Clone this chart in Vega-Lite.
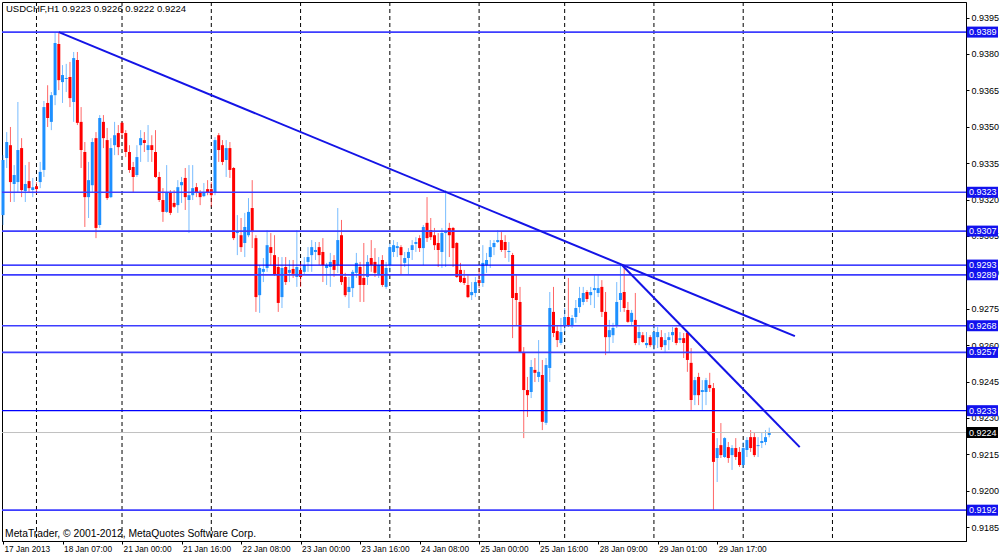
{
"$schema": "https://vega.github.io/schema/vega-lite/v6.json",
"width": 964, "height": 539,
"autosize": {"type": "none"},
"padding": {"left": 2, "top": 2, "right": 34, "bottom": 16},
"background": "white",
"config": {"view": {"stroke": "#000000", "strokeWidth": 1}, "axis": {"domainColor": "#000000", "tickColor": "#000000", "labelColor": "#000000", "labelFont": "Liberation Sans", "labelFontSize": 9}, "axisX": {"labelFontSize": 8.3}},
"datasets": {
"bars": [
{"i":0,"o":0.93136,"h":0.93383,"l":0.93095,"c":0.93363},
{"i":1,"o":0.93371,"h":0.93478,"l":0.93330,"c":0.93437},
{"i":2,"o":0.93424,"h":0.93499,"l":0.93190,"c":0.93272},
{"i":3,"o":0.93264,"h":0.93342,"l":0.93190,"c":0.93301},
{"i":4,"o":0.93272,"h":0.93602,"l":0.93231,"c":0.93404},
{"i":5,"o":0.93412,"h":0.93453,"l":0.93210,"c":0.93239},
{"i":6,"o":0.93235,"h":0.93342,"l":0.93190,"c":0.93264},
{"i":7,"o":0.93276,"h":0.93355,"l":0.93231,"c":0.93247},
{"i":8,"o":0.93239,"h":0.93289,"l":0.93210,"c":0.93251},
{"i":9,"o":0.93255,"h":0.93272,"l":0.93223,"c":0.93243},
{"i":10,"o":0.93272,"h":0.93355,"l":0.93247,"c":0.93314},
{"i":11,"o":0.93322,"h":0.93606,"l":0.93293,"c":0.93581},
{"i":12,"o":0.93598,"h":0.93671,"l":0.93499,"c":0.93536},
{"i":13,"o":0.93520,"h":0.93643,"l":0.93486,"c":0.93630},
{"i":14,"o":0.93630,"h":0.93886,"l":0.93589,"c":0.93845},
{"i":15,"o":0.93841,"h":0.93890,"l":0.93651,"c":0.93692},
{"i":16,"o":0.93684,"h":0.93754,"l":0.93598,"c":0.93713},
{"i":17,"o":0.93697,"h":0.93759,"l":0.93643,"c":0.93701},
{"i":18,"o":0.93705,"h":0.93767,"l":0.93581,"c":0.93618},
{"i":19,"o":0.93602,"h":0.93808,"l":0.93520,"c":0.93783},
{"i":20,"o":0.93775,"h":0.93808,"l":0.93507,"c":0.93516},
{"i":21,"o":0.93520,"h":0.93581,"l":0.93330,"c":0.93404},
{"i":22,"o":0.93396,"h":0.93437,"l":0.93087,"c":0.93210},
{"i":23,"o":0.93210,"h":0.93355,"l":0.93124,"c":0.93280},
{"i":24,"o":0.93259,"h":0.93453,"l":0.93227,"c":0.93437},
{"i":25,"o":0.93453,"h":0.93478,"l":0.93041,"c":0.93083},
{"i":26,"o":0.93095,"h":0.93548,"l":0.93083,"c":0.93536},
{"i":27,"o":0.93520,"h":0.93548,"l":0.93412,"c":0.93453},
{"i":28,"o":0.93445,"h":0.93495,"l":0.93198,"c":0.93206},
{"i":29,"o":0.93210,"h":0.93453,"l":0.93206,"c":0.93412},
{"i":30,"o":0.93424,"h":0.93520,"l":0.93383,"c":0.93465},
{"i":31,"o":0.93474,"h":0.93507,"l":0.93383,"c":0.93416},
{"i":32,"o":0.93516,"h":0.93520,"l":0.93453,"c":0.93474},
{"i":33,"o":0.93474,"h":0.93486,"l":0.93375,"c":0.93396},
{"i":34,"o":0.93396,"h":0.93424,"l":0.93310,"c":0.93322},
{"i":35,"o":0.93334,"h":0.93355,"l":0.93227,"c":0.93293},
{"i":36,"o":0.93301,"h":0.93424,"l":0.93293,"c":0.93375},
{"i":37,"o":0.93424,"h":0.93486,"l":0.93355,"c":0.93453},
{"i":38,"o":0.93445,"h":0.93478,"l":0.93396,"c":0.93433},
{"i":39,"o":0.93404,"h":0.93507,"l":0.93355,"c":0.93424},
{"i":40,"o":0.93424,"h":0.93465,"l":0.93355,"c":0.93404},
{"i":41,"o":0.93396,"h":0.93486,"l":0.93289,"c":0.93293},
{"i":42,"o":0.93293,"h":0.93314,"l":0.93190,"c":0.93198},
{"i":43,"o":0.93198,"h":0.93247,"l":0.93108,"c":0.93149},
{"i":44,"o":0.93149,"h":0.93342,"l":0.93145,"c":0.93227},
{"i":45,"o":0.93231,"h":0.93239,"l":0.93136,"c":0.93145},
{"i":46,"o":0.93186,"h":0.93239,"l":0.93165,"c":0.93170},
{"i":47,"o":0.93177,"h":0.93280,"l":0.93145,"c":0.93251},
{"i":48,"o":0.93259,"h":0.93293,"l":0.93186,"c":0.93272},
{"i":49,"o":0.93289,"h":0.93330,"l":0.93157,"c":0.93210},
{"i":50,"o":0.93198,"h":0.93342,"l":0.93062,"c":0.93218},
{"i":51,"o":0.93218,"h":0.93342,"l":0.93198,"c":0.93247},
{"i":52,"o":0.93251,"h":0.93268,"l":0.93210,"c":0.93227},
{"i":53,"o":0.93231,"h":0.93239,"l":0.93177,"c":0.93210},
{"i":54,"o":0.93214,"h":0.93268,"l":0.93210,"c":0.93231},
{"i":55,"o":0.93243,"h":0.93280,"l":0.93218,"c":0.93227},
{"i":56,"o":0.93243,"h":0.93272,"l":0.93170,"c":0.93218},
{"i":57,"o":0.93227,"h":0.93457,"l":0.93218,"c":0.93445},
{"i":58,"o":0.93465,"h":0.93474,"l":0.93355,"c":0.93404},
{"i":59,"o":0.93424,"h":0.93445,"l":0.93342,"c":0.93355},
{"i":60,"o":0.93363,"h":0.93445,"l":0.93293,"c":0.93412},
{"i":61,"o":0.93412,"h":0.93437,"l":0.93289,"c":0.93322},
{"i":62,"o":0.93330,"h":0.93334,"l":0.93033,"c":0.93041},
{"i":63,"o":0.93062,"h":0.93136,"l":0.92971,"c":0.93066},
{"i":64,"o":0.93053,"h":0.93124,"l":0.92984,"c":0.93004},
{"i":65,"o":0.93021,"h":0.93145,"l":0.92963,"c":0.93087},
{"i":66,"o":0.93053,"h":0.93206,"l":0.93045,"c":0.93149},
{"i":67,"o":0.93165,"h":0.93280,"l":0.93000,"c":0.93066},
{"i":68,"o":0.93041,"h":0.93053,"l":0.92737,"c":0.92798},
{"i":69,"o":0.92806,"h":0.92930,"l":0.92733,"c":0.92918},
{"i":70,"o":0.92902,"h":0.92959,"l":0.92860,"c":0.92914},
{"i":71,"o":0.92918,"h":0.93074,"l":0.92902,"c":0.93012},
{"i":72,"o":0.93004,"h":0.93062,"l":0.92930,"c":0.92980},
{"i":73,"o":0.92971,"h":0.93053,"l":0.92885,"c":0.92889},
{"i":74,"o":0.92922,"h":0.92963,"l":0.92737,"c":0.92774},
{"i":75,"o":0.92798,"h":0.92963,"l":0.92753,"c":0.92918},
{"i":76,"o":0.92922,"h":0.92963,"l":0.92848,"c":0.92860},
{"i":77,"o":0.92898,"h":0.92951,"l":0.92860,"c":0.92910},
{"i":78,"o":0.92914,"h":0.92951,"l":0.92877,"c":0.92894},
{"i":79,"o":0.92881,"h":0.93074,"l":0.92840,"c":0.92922},
{"i":80,"o":0.92910,"h":0.92939,"l":0.92840,"c":0.92881},
{"i":81,"o":0.92902,"h":0.92963,"l":0.92889,"c":0.92930},
{"i":82,"o":0.92943,"h":0.93004,"l":0.92902,"c":0.92963},
{"i":83,"o":0.92971,"h":0.93033,"l":0.92902,"c":0.93004},
{"i":84,"o":0.92984,"h":0.93025,"l":0.92951,"c":0.92992},
{"i":85,"o":0.93004,"h":0.93025,"l":0.92930,"c":0.92971},
{"i":86,"o":0.92984,"h":0.93041,"l":0.92860,"c":0.92930},
{"i":87,"o":0.92918,"h":0.92939,"l":0.92848,"c":0.92930},
{"i":88,"o":0.92922,"h":0.92980,"l":0.92840,"c":0.92943},
{"i":89,"o":0.92951,"h":0.92971,"l":0.92881,"c":0.92910},
{"i":90,"o":0.92930,"h":0.93165,"l":0.92898,"c":0.93033},
{"i":91,"o":0.93053,"h":0.93116,"l":0.92848,"c":0.92860},
{"i":92,"o":0.92881,"h":0.92898,"l":0.92798,"c":0.92806},
{"i":93,"o":0.92819,"h":0.92881,"l":0.92753,"c":0.92840},
{"i":94,"o":0.92835,"h":0.92910,"l":0.92798,"c":0.92902},
{"i":95,"o":0.92898,"h":0.92980,"l":0.92877,"c":0.92939},
{"i":96,"o":0.92922,"h":0.92943,"l":0.92778,"c":0.92848},
{"i":97,"o":0.92877,"h":0.93021,"l":0.92778,"c":0.92848},
{"i":98,"o":0.92881,"h":0.92971,"l":0.92848,"c":0.92943},
{"i":99,"o":0.92959,"h":0.93033,"l":0.92902,"c":0.92930},
{"i":100,"o":0.92943,"h":0.93000,"l":0.92881,"c":0.92898},
{"i":101,"o":0.92889,"h":0.92963,"l":0.92877,"c":0.92930},
{"i":102,"o":0.92951,"h":0.92971,"l":0.92840,"c":0.92848},
{"i":103,"o":0.92840,"h":0.92943,"l":0.92832,"c":0.92918},
{"i":104,"o":0.92930,"h":0.93021,"l":0.92898,"c":0.93004},
{"i":105,"o":0.92984,"h":0.93033,"l":0.92963,"c":0.93012},
{"i":106,"o":0.93000,"h":0.93025,"l":0.92963,"c":0.93008},
{"i":107,"o":0.93004,"h":0.93012,"l":0.92889,"c":0.92971},
{"i":108,"o":0.92939,"h":0.92984,"l":0.92922,"c":0.92959},
{"i":109,"o":0.92959,"h":0.93000,"l":0.92889,"c":0.92984},
{"i":110,"o":0.92992,"h":0.93033,"l":0.92951,"c":0.93012},
{"i":111,"o":0.93017,"h":0.93045,"l":0.92984,"c":0.93025},
{"i":112,"o":0.93041,"h":0.93053,"l":0.92984,"c":0.93000},
{"i":113,"o":0.93000,"h":0.93095,"l":0.92930,"c":0.93087},
{"i":114,"o":0.93104,"h":0.93210,"l":0.93025,"c":0.93041},
{"i":115,"o":0.93074,"h":0.93124,"l":0.93033,"c":0.93045},
{"i":116,"o":0.93053,"h":0.93083,"l":0.92992,"c":0.93012},
{"i":117,"o":0.93021,"h":0.93062,"l":0.92922,"c":0.92992},
{"i":118,"o":0.92984,"h":0.93083,"l":0.92918,"c":0.93062},
{"i":119,"o":0.93062,"h":0.93239,"l":0.92922,"c":0.93066},
{"i":120,"o":0.93083,"h":0.93104,"l":0.92963,"c":0.93053},
{"i":121,"o":0.93083,"h":0.93087,"l":0.92922,"c":0.93000},
{"i":122,"o":0.93021,"h":0.93025,"l":0.92877,"c":0.92881},
{"i":123,"o":0.92910,"h":0.92939,"l":0.92856,"c":0.92860},
{"i":124,"o":0.92877,"h":0.92910,"l":0.92848,"c":0.92856},
{"i":125,"o":0.92848,"h":0.92889,"l":0.92794,"c":0.92798},
{"i":126,"o":0.92806,"h":0.92860,"l":0.92786,"c":0.92819},
{"i":127,"o":0.92815,"h":0.92881,"l":0.92798,"c":0.92860},
{"i":128,"o":0.92868,"h":0.92918,"l":0.92835,"c":0.92856},
{"i":129,"o":0.92856,"h":0.93012,"l":0.92840,"c":0.92939},
{"i":130,"o":0.92930,"h":0.92980,"l":0.92898,"c":0.92951},
{"i":131,"o":0.92963,"h":0.93033,"l":0.92918,"c":0.93004},
{"i":132,"o":0.93004,"h":0.93033,"l":0.92971,"c":0.93021},
{"i":133,"o":0.93025,"h":0.93074,"l":0.93021,"c":0.93033},
{"i":134,"o":0.93033,"h":0.93066,"l":0.92984,"c":0.92992},
{"i":135,"o":0.93025,"h":0.93053,"l":0.92959,"c":0.92992},
{"i":136,"o":0.92984,"h":0.93025,"l":0.92943,"c":0.92988},
{"i":137,"o":0.92971,"h":0.92980,"l":0.92629,"c":0.92794},
{"i":138,"o":0.92815,"h":0.92889,"l":0.92683,"c":0.92786},
{"i":139,"o":0.92778,"h":0.92840,"l":0.92568,"c":0.92572},
{"i":140,"o":0.92572,"h":0.92592,"l":0.92217,"c":0.92415},
{"i":141,"o":0.92415,"h":0.92469,"l":0.92304,"c":0.92394},
{"i":142,"o":0.92407,"h":0.92539,"l":0.92382,"c":0.92510},
{"i":143,"o":0.92498,"h":0.92547,"l":0.92448,"c":0.92486},
{"i":144,"o":0.92469,"h":0.92621,"l":0.92448,"c":0.92490},
{"i":145,"o":0.92477,"h":0.92539,"l":0.92250,"c":0.92284},
{"i":146,"o":0.92280,"h":0.92547,"l":0.92271,"c":0.92518},
{"i":147,"o":0.92506,"h":0.92819,"l":0.92448,"c":0.92753},
{"i":148,"o":0.92737,"h":0.92840,"l":0.92633,"c":0.92650},
{"i":149,"o":0.92658,"h":0.92683,"l":0.92592,"c":0.92621},
{"i":150,"o":0.92609,"h":0.92712,"l":0.92600,"c":0.92654},
{"i":151,"o":0.92683,"h":0.92753,"l":0.92654,"c":0.92716},
{"i":152,"o":0.92716,"h":0.92877,"l":0.92675,"c":0.92683},
{"i":153,"o":0.92683,"h":0.92724,"l":0.92671,"c":0.92712},
{"i":154,"o":0.92716,"h":0.92786,"l":0.92692,"c":0.92753},
{"i":155,"o":0.92757,"h":0.92840,"l":0.92733,"c":0.92794},
{"i":156,"o":0.92778,"h":0.92840,"l":0.92765,"c":0.92815},
{"i":157,"o":0.92819,"h":0.92827,"l":0.92778,"c":0.92790},
{"i":158,"o":0.92806,"h":0.92840,"l":0.92765,"c":0.92819},
{"i":159,"o":0.92827,"h":0.92889,"l":0.92753,"c":0.92835},
{"i":160,"o":0.92815,"h":0.92889,"l":0.92798,"c":0.92835},
{"i":161,"o":0.92840,"h":0.92868,"l":0.92716,"c":0.92737},
{"i":162,"o":0.92737,"h":0.92819,"l":0.92559,"c":0.92633},
{"i":163,"o":0.92633,"h":0.92704,"l":0.92572,"c":0.92662},
{"i":164,"o":0.92641,"h":0.92692,"l":0.92609,"c":0.92671},
{"i":165,"o":0.92683,"h":0.92860,"l":0.92671,"c":0.92778},
{"i":166,"o":0.92786,"h":0.92930,"l":0.92737,"c":0.92815},
{"i":167,"o":0.92819,"h":0.92922,"l":0.92737,"c":0.92753},
{"i":168,"o":0.92745,"h":0.92778,"l":0.92692,"c":0.92696},
{"i":169,"o":0.92696,"h":0.92745,"l":0.92683,"c":0.92733},
{"i":170,"o":0.92704,"h":0.92815,"l":0.92600,"c":0.92609},
{"i":171,"o":0.92629,"h":0.92683,"l":0.92600,"c":0.92654},
{"i":172,"o":0.92641,"h":0.92654,"l":0.92609,"c":0.92613},
{"i":173,"o":0.92600,"h":0.92654,"l":0.92588,"c":0.92609},
{"i":174,"o":0.92633,"h":0.92641,"l":0.92592,"c":0.92600},
{"i":175,"o":0.92600,"h":0.92675,"l":0.92580,"c":0.92654},
{"i":176,"o":0.92633,"h":0.92675,"l":0.92588,"c":0.92654},
{"i":177,"o":0.92633,"h":0.92662,"l":0.92580,"c":0.92592},
{"i":178,"o":0.92600,"h":0.92650,"l":0.92572,"c":0.92621},
{"i":179,"o":0.92621,"h":0.92654,"l":0.92580,"c":0.92633},
{"i":180,"o":0.92641,"h":0.92675,"l":0.92613,"c":0.92654},
{"i":181,"o":0.92671,"h":0.92675,"l":0.92600,"c":0.92609},
{"i":182,"o":0.92621,"h":0.92654,"l":0.92609,"c":0.92629},
{"i":183,"o":0.92629,"h":0.92650,"l":0.92547,"c":0.92609},
{"i":184,"o":0.92650,"h":0.92654,"l":0.92490,"c":0.92539},
{"i":185,"o":0.92527,"h":0.92588,"l":0.92333,"c":0.92374},
{"i":186,"o":0.92394,"h":0.92469,"l":0.92353,"c":0.92456},
{"i":187,"o":0.92469,"h":0.92486,"l":0.92353,"c":0.92394},
{"i":188,"o":0.92407,"h":0.92456,"l":0.92333,"c":0.92415},
{"i":189,"o":0.92407,"h":0.92465,"l":0.92353,"c":0.92456},
{"i":190,"o":0.92436,"h":0.92486,"l":0.92407,"c":0.92423},
{"i":191,"o":0.92423,"h":0.92444,"l":0.91921,"c":0.92119},
{"i":192,"o":0.92135,"h":0.92217,"l":0.92036,"c":0.92176},
{"i":193,"o":0.92188,"h":0.92279,"l":0.92135,"c":0.92147},
{"i":194,"o":0.92139,"h":0.92221,"l":0.92135,"c":0.92217},
{"i":195,"o":0.92180,"h":0.92201,"l":0.92115,"c":0.92135},
{"i":196,"o":0.92147,"h":0.92188,"l":0.92086,"c":0.92176},
{"i":197,"o":0.92176,"h":0.92217,"l":0.92127,"c":0.92139},
{"i":198,"o":0.92160,"h":0.92180,"l":0.92098,"c":0.92106},
{"i":199,"o":0.92106,"h":0.92201,"l":0.92094,"c":0.92176},
{"i":200,"o":0.92168,"h":0.92221,"l":0.92139,"c":0.92209},
{"i":201,"o":0.92221,"h":0.92250,"l":0.92160,"c":0.92176},
{"i":202,"o":0.92221,"h":0.92242,"l":0.92139,"c":0.92147},
{"i":203,"o":0.92184,"h":0.92221,"l":0.92139,"c":0.92188},
{"i":204,"o":0.92197,"h":0.92242,"l":0.92176,"c":0.92205},
{"i":205,"o":0.92201,"h":0.92250,"l":0.92188,"c":0.92221},
{"i":206,"o":0.9223,"h":0.9226,"l":0.9222,"c":0.9224}
],
"days": [{"d":9},{"d":32},{"d":56},{"d":80},{"d":104},{"d":128},{"d":151},{"d":175},{"d":199},{"d":223}],
"levels": [
{"v":0.9389,"kind":"a"},{"v":0.9323,"kind":"a"},{"v":0.9307,"kind":"a"},{"v":0.9293,"kind":"b"},
{"v":0.9289,"kind":"a"},{"v":0.9268,"kind":"a"},{"v":0.9257,"kind":"a"},{"v":0.9233,"kind":"b"},
{"v":0.9224,"kind":"bid"},{"v":0.9192,"kind":"a"}
],
"trends": [
{"xa":15,"ya":0.9389,"xb":212.9,"yb":0.92637},
{"xa":166.4,"ya":0.9293,"xb":214.2,"yb":0.9218}
]
},
"layer": [
{"data": {"name": "days"},
 "mark": {"type": "rule", "strokeDash": [4, 3], "color": "#000000", "strokeWidth": 1},
 "encoding": {"x": {"field": "d", "type": "quantitative", "scale": {"domain": [-0.27, 258.9], "zero": false, "nice": false, "padding": 0},
        "axis": {"orient": "bottom", "values": [0,16,32,48,64,80,96,112,128,144,160,176,192], "labelExpr": "['17 Jan 2013','18 Jan 07:00','21 Jan 00:00','21 Jan 16:00','22 Jan 08:00','23 Jan 00:00','23 Jan 16:00','24 Jan 08:00','25 Jan 00:00','25 Jan 16:00','28 Jan 09:00','29 Jan 01:00','29 Jan 17:00'][round(datum.value/16)]", "labelAlign": "left", "labelBaseline": "top", "labelPadding": 0, "labelOffset": 1, "tickSize": 3, "grid": false, "title": null, "labelOverlap": false, "labelFlush": false}}}},
{"data": {"name": "bars"},
 "mark": {"type": "rule", "strokeWidth": 1, "opacity": 0.6},
 "encoding": {
  "x": {"field": "i", "type": "quantitative", "scale": {"domain": [-0.27, 258.9], "zero": false, "nice": false, "padding": 0},
        "axis": {"orient": "bottom", "values": [0,16,32,48,64,80,96,112,128,144,160,176,192], "labelExpr": "['17 Jan 2013','18 Jan 07:00','21 Jan 00:00','21 Jan 16:00','22 Jan 08:00','23 Jan 00:00','23 Jan 16:00','24 Jan 08:00','25 Jan 00:00','25 Jan 16:00','28 Jan 09:00','29 Jan 01:00','29 Jan 17:00'][round(datum.value/16)]", "labelAlign": "left", "labelBaseline": "top", "labelPadding": 0, "labelOffset": 1, "tickSize": 3, "grid": false, "title": null, "labelOverlap": false, "labelFlush": false}},
  "y": {"field": "l", "type": "quantitative", "scale": {"domain": [0.91793, 0.94014], "zero": false, "nice": false, "padding": 0},
        "axis": {"orient": "right", "values": [0.9185,0.92,0.9215,0.923,0.9245,0.926,0.9275,0.929,0.9305,0.932,0.9335,0.935,0.9365,0.938,0.9395], "format": ".4f", "title": null, "grid": false, "tickSize": 3, "labelPadding": 2, "labelOverlap": false, "labelFlush": false}},
  "y2": {"field": "h"},
  "color": {"condition": {"test": "datum.c >= datum.o", "value": "#1E90FF"}, "value": "#FF0000"}}},
{"data": {"name": "bars"},
 "mark": {"type": "bar", "orient": "vertical", "size": 3},
 "encoding": {
  "x": {"field": "i", "type": "quantitative", "scale": {"domain": [-0.27, 258.9], "zero": false, "nice": false, "padding": 0},
        "axis": {"orient": "bottom", "values": [0,16,32,48,64,80,96,112,128,144,160,176,192], "labelExpr": "['17 Jan 2013','18 Jan 07:00','21 Jan 00:00','21 Jan 16:00','22 Jan 08:00','23 Jan 00:00','23 Jan 16:00','24 Jan 08:00','25 Jan 00:00','25 Jan 16:00','28 Jan 09:00','29 Jan 01:00','29 Jan 17:00'][round(datum.value/16)]", "labelAlign": "left", "labelBaseline": "top", "labelPadding": 0, "labelOffset": 1, "tickSize": 3, "grid": false, "title": null, "labelOverlap": false, "labelFlush": false}},
  "y": {"field": "o", "type": "quantitative", "scale": {"domain": [0.91793, 0.94014], "zero": false, "nice": false, "padding": 0},
        "axis": {"orient": "right", "values": [0.9185,0.92,0.9215,0.923,0.9245,0.926,0.9275,0.929,0.9305,0.932,0.9335,0.935,0.9365,0.938,0.9395], "format": ".4f", "title": null, "grid": false, "tickSize": 3, "labelPadding": 2, "labelOverlap": false, "labelFlush": false}},
  "y2": {"field": "c"},
  "color": {"condition": {"test": "datum.c >= datum.o", "value": "#1E90FF"}, "value": "#FF0000"}}},
{"data": {"name": "levels"},
 "mark": {"type": "rule"},
 "encoding": {
  "y": {"field": "v", "type": "quantitative", "scale": {"domain": [0.91793, 0.94014], "zero": false, "nice": false, "padding": 0},
        "axis": {"orient": "right", "values": [0.9185,0.92,0.9215,0.923,0.9245,0.926,0.9275,0.929,0.9305,0.932,0.9335,0.935,0.9365,0.938,0.9395], "format": ".4f", "title": null, "grid": false, "tickSize": 3, "labelPadding": 2, "labelOverlap": false, "labelFlush": false}},
  "stroke": {"field": "kind", "type": "nominal", "scale": {"domain": ["a", "b", "bid"], "range": ["#3d3dff", "#0000ff", "#c0c0c0"]}, "legend": null},
  "strokeWidth": {"field": "kind", "type": "ordinal", "scale": {"domain": ["a", "b", "bid"], "range": [1.7, 1, 1]}, "legend": null}}},
{"data": {"name": "trends"},
 "mark": {"type": "rule", "stroke": "#1414e6", "strokeWidth": 2},
 "encoding": {
  "x": {"field": "xa", "type": "quantitative", "scale": {"domain": [-0.27, 258.9], "zero": false, "nice": false, "padding": 0},
        "axis": {"orient": "bottom", "values": [0,16,32,48,64,80,96,112,128,144,160,176,192], "labelExpr": "['17 Jan 2013','18 Jan 07:00','21 Jan 00:00','21 Jan 16:00','22 Jan 08:00','23 Jan 00:00','23 Jan 16:00','24 Jan 08:00','25 Jan 00:00','25 Jan 16:00','28 Jan 09:00','29 Jan 01:00','29 Jan 17:00'][round(datum.value/16)]", "labelAlign": "left", "labelBaseline": "top", "labelPadding": 0, "labelOffset": 1, "tickSize": 3, "grid": false, "title": null, "labelOverlap": false, "labelFlush": false}},
  "x2": {"field": "xb"},
  "y": {"field": "ya", "type": "quantitative", "scale": {"domain": [0.91793, 0.94014], "zero": false, "nice": false, "padding": 0},
        "axis": {"orient": "right", "values": [0.9185,0.92,0.9215,0.923,0.9245,0.926,0.9275,0.929,0.9305,0.932,0.9335,0.935,0.9365,0.938,0.9395], "format": ".4f", "title": null, "grid": false, "tickSize": 3, "labelPadding": 2, "labelOverlap": false, "labelFlush": false}},
  "y2": {"field": "yb"}}},
{"data": {"name": "levels"},
 "mark": {"type": "bar", "orient": "horizontal", "size": 11},
 "encoding": {
  "x": {"datum": 259.1, "type": "quantitative", "scale": {"domain": [-0.27, 258.9], "zero": false, "nice": false, "padding": 0},
        "axis": {"orient": "bottom", "values": [0,16,32,48,64,80,96,112,128,144,160,176,192], "labelExpr": "['17 Jan 2013','18 Jan 07:00','21 Jan 00:00','21 Jan 16:00','22 Jan 08:00','23 Jan 00:00','23 Jan 16:00','24 Jan 08:00','25 Jan 00:00','25 Jan 16:00','28 Jan 09:00','29 Jan 01:00','29 Jan 17:00'][round(datum.value/16)]", "labelAlign": "left", "labelBaseline": "top", "labelPadding": 0, "labelOffset": 1, "tickSize": 3, "grid": false, "title": null, "labelOverlap": false, "labelFlush": false}},
  "x2": {"datum": 267.5},
  "y": {"field": "v", "type": "quantitative", "scale": {"domain": [0.91793, 0.94014], "zero": false, "nice": false, "padding": 0},
        "axis": {"orient": "right", "values": [0.9185,0.92,0.9215,0.923,0.9245,0.926,0.9275,0.929,0.9305,0.932,0.9335,0.935,0.9365,0.938,0.9395], "format": ".4f", "title": null, "grid": false, "tickSize": 3, "labelPadding": 2, "labelOverlap": false, "labelFlush": false}},
  "fill": {"field": "kind", "type": "nominal", "scale": {"domain": ["a", "b", "bid"], "range": ["#1212ee", "#1212ee", "#000000"]}, "legend": null}}},
{"data": {"name": "levels"},
 "mark": {"type": "text", "align": "left", "baseline": "middle", "fill": "#ffffff", "font": "Liberation Sans", "fontSize": 9},
 "encoding": {
  "x": {"datum": 259.7, "type": "quantitative", "scale": {"domain": [-0.27, 258.9], "zero": false, "nice": false, "padding": 0},
        "axis": {"orient": "bottom", "values": [0,16,32,48,64,80,96,112,128,144,160,176,192], "labelExpr": "['17 Jan 2013','18 Jan 07:00','21 Jan 00:00','21 Jan 16:00','22 Jan 08:00','23 Jan 00:00','23 Jan 16:00','24 Jan 08:00','25 Jan 00:00','25 Jan 16:00','28 Jan 09:00','29 Jan 01:00','29 Jan 17:00'][round(datum.value/16)]", "labelAlign": "left", "labelBaseline": "top", "labelPadding": 0, "labelOffset": 1, "tickSize": 3, "grid": false, "title": null, "labelOverlap": false, "labelFlush": false}},
  "y": {"field": "v", "type": "quantitative", "scale": {"domain": [0.91793, 0.94014], "zero": false, "nice": false, "padding": 0},
        "axis": {"orient": "right", "values": [0.9185,0.92,0.9215,0.923,0.9245,0.926,0.9275,0.929,0.9305,0.932,0.9335,0.935,0.9365,0.938,0.9395], "format": ".4f", "title": null, "grid": false, "tickSize": 3, "labelPadding": 2, "labelOverlap": false, "labelFlush": false}},
  "text": {"field": "v", "type": "quantitative", "format": ".4f"}}},
{"data": {"values": [{}]},
 "mark": {"type": "text", "text": "USDCHF,H1  0.9223 0.9226 0.9222 0.9224", "align": "left", "baseline": "alphabetic", "fill": "#000000", "font": "Liberation Sans", "fontSize": 9.5},
 "encoding": {
  "x": {"datum": 0.8, "type": "quantitative", "scale": {"domain": [-0.27, 258.9], "zero": false, "nice": false, "padding": 0},
        "axis": {"orient": "bottom", "values": [0,16,32,48,64,80,96,112,128,144,160,176,192], "labelExpr": "['17 Jan 2013','18 Jan 07:00','21 Jan 00:00','21 Jan 16:00','22 Jan 08:00','23 Jan 00:00','23 Jan 16:00','24 Jan 08:00','25 Jan 00:00','25 Jan 16:00','28 Jan 09:00','29 Jan 01:00','29 Jan 17:00'][round(datum.value/16)]", "labelAlign": "left", "labelBaseline": "top", "labelPadding": 0, "labelOffset": 1, "tickSize": 3, "grid": false, "title": null, "labelOverlap": false, "labelFlush": false}},
  "y": {"datum": 0.93971, "type": "quantitative", "scale": {"domain": [0.91793, 0.94014], "zero": false, "nice": false, "padding": 0},
        "axis": {"orient": "right", "values": [0.9185,0.92,0.9215,0.923,0.9245,0.926,0.9275,0.929,0.9305,0.932,0.9335,0.935,0.9365,0.938,0.9395], "format": ".4f", "title": null, "grid": false, "tickSize": 3, "labelPadding": 2, "labelOverlap": false, "labelFlush": false}}}},
{"data": {"values": [{}]},
 "mark": {"type": "text", "text": "MetaTrader, © 2001-2012, MetaQuotes Software Corp.", "align": "left", "baseline": "alphabetic", "fill": "#000000", "font": "Liberation Sans", "fontSize": 10.3},
 "encoding": {
  "x": {"datum": 0.55, "type": "quantitative", "scale": {"domain": [-0.27, 258.9], "zero": false, "nice": false, "padding": 0},
        "axis": {"orient": "bottom", "values": [0,16,32,48,64,80,96,112,128,144,160,176,192], "labelExpr": "['17 Jan 2013','18 Jan 07:00','21 Jan 00:00','21 Jan 16:00','22 Jan 08:00','23 Jan 00:00','23 Jan 16:00','24 Jan 08:00','25 Jan 00:00','25 Jan 16:00','28 Jan 09:00','29 Jan 01:00','29 Jan 17:00'][round(datum.value/16)]", "labelAlign": "left", "labelBaseline": "top", "labelPadding": 0, "labelOffset": 1, "tickSize": 3, "grid": false, "title": null, "labelOverlap": false, "labelFlush": false}},
  "y": {"datum": 0.91808, "type": "quantitative", "scale": {"domain": [0.91793, 0.94014], "zero": false, "nice": false, "padding": 0},
        "axis": {"orient": "right", "values": [0.9185,0.92,0.9215,0.923,0.9245,0.926,0.9275,0.929,0.9305,0.932,0.9335,0.935,0.9365,0.938,0.9395], "format": ".4f", "title": null, "grid": false, "tickSize": 3, "labelPadding": 2, "labelOverlap": false, "labelFlush": false}}}}
]
}
